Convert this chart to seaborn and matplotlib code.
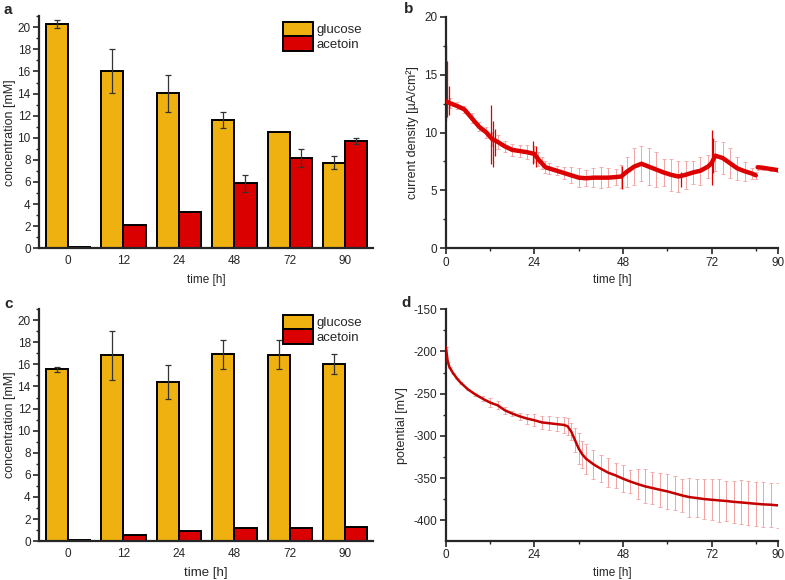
import numpy as np
import pandas as pd
import matplotlib
matplotlib.use("Agg")
import matplotlib.pyplot as plt
from matplotlib.patches import Patch
from matplotlib.ticker import MultipleLocator, FixedLocator
import seaborn as sns

# ---------------- data ----------------
times = ["0", "12", "24", "48", "72", "90"]

glucose_a = [20.27, 16.04, 14.02, 11.59, 10.53, 7.76]
glucose_a_err = [0.35, 1.95, 1.68, 0.75, 0.0, 0.6]
acetoin_a = [0.12, 2.09, 3.30, 5.87, 8.17, 9.74]
acetoin_a_err = [0.0, 0.0, 0.0, 0.78, 0.82, 0.27]

glucose_c = [15.55, 16.82, 14.43, 16.91, 16.88, 16.04]
glucose_c_err = [0.23, 2.2, 1.55, 1.3, 1.3, 0.88]
acetoin_c = [0.10, 0.55, 0.94, 1.21, 1.21, 1.27]
acetoin_c_err = [0, 0, 0, 0, 0, 0]

# panel b: current density
t_b = [0, 1, 3, 5, 7, 9, 11, 12.5, 14, 16, 18, 20, 22, 24, 25, 26, 27, 28, 30, 32,
       34, 36, 38, 40, 42, 44, 46, 47.5, 49, 51, 53, 55, 57, 59, 61, 63, 65, 67,
       69, 71, 72, 73, 75, 77, 79, 81, 83, 84,
       84.5, 86, 88, 90]
j_b = [12.7, 12.55, 12.3, 12.0, 11.25, 10.5, 10.0, 9.45, 9.2, 8.8, 8.5, 8.4, 8.3,
       8.15, 7.7, 7.35, 7.0, 6.9, 6.7, 6.5, 6.3, 6.1, 6.05, 6.1, 6.1, 6.1, 6.15,
       6.2, 6.6, 7.05, 7.3, 7.05, 6.8, 6.55, 6.35, 6.2, 6.35, 6.55, 6.7, 7.05,
       7.35, 8.0, 7.8, 7.35, 6.9, 6.65, 6.45, 6.3,
       7.0, 6.95, 6.85, 6.75]
seg_b = [0] * 48 + [1] * 4
err_b = [0.5, 0.4, 0.3, 0.3, 0.4, 0.4, 0.5, 0.6, 0.6, 0.5, 0.5, 0.5, 0.6, 0.7,
         0.6, 0.5, 0.5, 0.5, 0.4, 0.5, 0.7, 0.8, 0.7, 0.8, 0.9, 0.8, 0.7, 1.0,
         1.3, 1.6, 1.5, 1.6, 1.5, 1.2, 1.4, 1.3, 1.2, 1.0, 1.2, 1.0, 0.0, 1.3,
         1.4, 1.3, 1.0, 0.8, 0.5, 0.3,
         0.2, 0.2, 0.2, 0.2]
spike_t = [0.1, 0.4, 0.8, 12.3, 12.8, 13.3, 23.5, 24.5, 47.8, 63.8, 72.1, 72.4]
spike_lo = [11.0, 11.3, 11.5, 7.3, 7.0, 8.0, 7.3, 7.0, 5.1, 5.3, 5.5, 6.5]
spike_hi = [17.6, 16.2, 14.0, 12.4, 11.0, 10.3, 9.3, 8.8, 7.1, 6.6, 10.2, 9.5]

# panel d: potential
t_d = [0, 0.5, 1, 2, 3, 4, 6, 8, 10, 12, 14, 16, 18, 20, 22, 24, 26, 28, 30, 32,
       33, 34, 35, 36, 37, 38, 40, 42, 44, 46, 48, 50, 52, 54, 56, 58, 60, 62,
       64, 66, 68, 70, 72, 74, 76, 78, 80, 82, 84, 86, 88, 90]
p_d = [-195, -212, -219, -226, -232, -237, -245, -251, -256, -260.6, -263.7,
       -269.7, -273.6, -276.8, -279.5, -281.5, -284, -285, -286, -287, -288.6,
       -295, -305, -315, -322, -327, -333.6, -338.8, -343.5, -346.7, -350.6,
       -354, -357, -359.7, -361.7, -363.7, -365.6, -368, -370.4, -372.4, -373.5,
       -374.7, -375.5, -376.3, -377, -378, -378.7, -379.5, -380.3, -381, -381.4,
       -382.2]
err_d = [0, 0, 1, 1, 1, 1, 1, 2, 3, 5, 5, 4, 3, 4, 6, 7, 8, 8, 8, 9, 10, 10, 14,
         18, 16, 18, 17, 16, 17, 15, 16, 14, 18, 20, 19, 20, 21, 20, 20, 23, 22,
         24, 24, 25, 24, 25, 26, 26, 26, 27, 26, 27]

# ---------------- style ----------------
sns.set_theme(style="ticks")
plt.rcParams["font.family"] = ["Liberation Sans", "DejaVu Sans"]
plt.rcParams["axes.unicode_minus"] = False
plt.rcParams["axes.linewidth"] = 1.6
plt.rcParams["xtick.major.width"] = 1.2
plt.rcParams["ytick.major.width"] = 1.2
plt.rcParams["ytick.minor.width"] = 1.0
plt.rcParams["xtick.minor.width"] = 1.0

C_GLU = "#EFB10F"
C_ACE = "#DA0000"
C_LINE_B = "#DD0000"
C_LINE_D = "#C40000"
C_ERR = "#F2A3A3"

fig = plt.figure(figsize=(7.85, 5.8), dpi=100)
ax_a = fig.add_axes([0.0497, 0.572, 0.4255, 0.400])
ax_b = fig.add_axes([0.568, 0.572, 0.423, 0.399])
ax_c = fig.add_axes([0.0497, 0.067, 0.4255, 0.400])
ax_d = fig.add_axes([0.568, 0.067, 0.423, 0.400])


def bar_panel(ax, glu, glu_err, ace, ace_err, xlabel_size):
    df = pd.DataFrame({
        "time": times * 2,
        "conc": glu + ace,
        "err": glu_err + ace_err,
        "compound": ["glucose"] * len(times) + ["acetoin"] * len(times),
    })
    sns.barplot(data=df, x="time", y="conc", hue="compound", order=times,
                hue_order=["glucose", "acetoin"],
                palette={"glucose": C_GLU, "acetoin": C_ACE},
                errorbar=None, width=0.8, edgecolor="black", linewidth=1.4,
                saturation=1, legend=False, ax=ax)
    bars = [p for p in ax.patches if p.get_height() > 0]
    errs = glu_err + ace_err
    for p, e in zip(bars, errs):
        if e > 0:
            ax.errorbar(p.get_x() + p.get_width() / 2, p.get_height(), yerr=e,
                        fmt="none", ecolor="#333333", elinewidth=0.9,
                        capsize=2.5, capthick=0.9, zorder=5)
    ax.set_xlim(-0.52, 5.5)
    ax.set_ylim(0, 21)
    ax.yaxis.set_major_locator(MultipleLocator(2))
    ax.yaxis.set_minor_locator(MultipleLocator(1))
    ax.set_yticks(np.arange(0, 21, 2))
    ax.tick_params(axis="x", length=0, labelsize=8.5, pad=5)
    ax.tick_params(axis="y", which="major", length=4, labelsize=8.5, pad=2)
    ax.tick_params(axis="y", which="minor", length=2)
    ax.set_xlabel("time [h]", fontsize=xlabel_size, labelpad=5)
    ax.set_ylabel("concentration [mM]", fontsize=9, labelpad=1)
    handles = [Patch(facecolor=C_GLU, edgecolor="black", linewidth=1.4, label="glucose"),
               Patch(facecolor=C_ACE, edgecolor="black", linewidth=1.4, label="acetoin")]
    ax.legend(handles=handles, loc="upper right", bbox_to_anchor=(0.99, 1.01),
              frameon=False, fontsize=9.5, handlelength=2.3, handleheight=1.3,
              labelspacing=0.0, handletextpad=0.25, borderaxespad=0.2)
    sns.despine(ax=ax)


bar_panel(ax_a, glucose_a, glucose_a_err, acetoin_a, acetoin_a_err, 8.5)
bar_panel(ax_c, glucose_c, glucose_c_err, acetoin_c, acetoin_c_err, 9.5)

# panel b
df_b = pd.DataFrame({"t": t_b, "j": j_b, "seg": seg_b, "err": err_b})
ax_b.errorbar(df_b["t"], df_b["j"], yerr=df_b["err"], fmt="none", ecolor=C_ERR,
              elinewidth=0.7, capsize=1.5, capthick=0.6, zorder=1)
ax_b.vlines(spike_t, spike_lo, spike_hi, color=C_LINE_B, linewidth=0.9, zorder=2)
sns.lineplot(data=df_b, x="t", y="j", units="seg", estimator=None, color=C_LINE_B,
             linewidth=3.2, ax=ax_b, zorder=3)
ax_b.set_xlim(0, 90)
ax_b.set_ylim(0, 20)
ax_b.xaxis.set_major_locator(FixedLocator([0, 24, 48, 72, 90]))
ax_b.xaxis.set_minor_locator(FixedLocator([12, 36, 60, 84]))
ax_b.yaxis.set_major_locator(MultipleLocator(5))
ax_b.yaxis.set_minor_locator(MultipleLocator(2.5))
ax_b.set_xlabel("time [h]", fontsize=8.5, labelpad=4)
ax_b.set_ylabel("current density [µA/cm²]", fontsize=9, labelpad=4)

# panel d
df_d = pd.DataFrame({"t": t_d, "p": p_d, "err": err_d})
ax_d.errorbar(df_d["t"], df_d["p"], yerr=df_d["err"], fmt="none", ecolor=C_ERR,
              elinewidth=0.7, capsize=1.5, capthick=0.6, zorder=1)
sns.lineplot(data=df_d, x="t", y="p", color=C_LINE_D, linewidth=1.8, ax=ax_d, zorder=3)
ax_d.set_xlim(0, 90)
ax_d.set_ylim(-424.5, -150)
ax_d.xaxis.set_major_locator(FixedLocator([0, 24, 48, 72, 90]))
ax_d.xaxis.set_minor_locator(FixedLocator([12, 36, 60, 84]))
ax_d.yaxis.set_major_locator(MultipleLocator(50))
ax_d.yaxis.set_minor_locator(MultipleLocator(25))
ax_d.set_xlabel("time [h]", fontsize=8.5, labelpad=4)
ax_d.set_ylabel("potential [mV]", fontsize=9, labelpad=4)

for ax in (ax_b, ax_d):
    ax.tick_params(which="major", length=4, labelsize=8.5, pad=2)
    ax.tick_params(which="minor", length=2)
    sns.despine(ax=ax)

# panel letters
for txt, (x, y) in zip(["a", "b", "c", "d"],
                       [(0.005, 0.983), (0.515, 0.984), (0.005, 0.476), (0.511, 0.478)]):
    fig.text(x, y, txt, fontsize=11, fontweight="bold", ha="left", va="center")

fig.savefig("out.png", dpi=100)
